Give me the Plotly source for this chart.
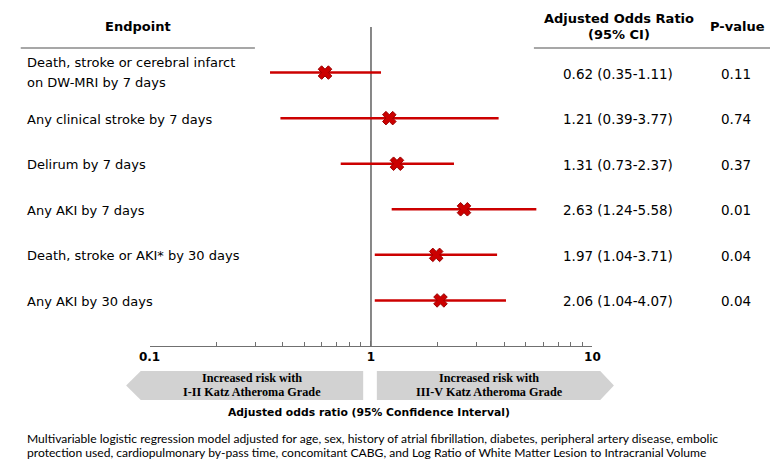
import plotly.graph_objects as go

W, H = 778, 466

endpoints = [
    ["Death, stroke or cerebral infarct", "on DW-MRI by 7 days"],
    ["Any clinical stroke by 7 days"],
    ["Delirum by 7 days"],
    ["Any AKI by 7 days"],
    ["Death, stroke or AKI* by 30 days"],
    ["Any AKI by 30 days"],
]
odds_ratio = [0.62, 1.21, 1.31, 2.63, 1.97, 2.06]
ci_low = [0.35, 0.39, 0.73, 1.24, 1.04, 1.04]
ci_high = [1.11, 3.77, 2.37, 5.58, 3.71, 4.07]
p_values = ["0.11", "0.74", "0.37", "0.01", "0.04", "0.04"]
rows = [1, 2, 3, 4, 5, 6]

major_ticks = [0.1, 1, 10]
major_text = ["0.1", "1", "10"]
minor_ticks = [0.2, 0.3, 0.4, 0.5, 0.6, 0.7, 0.8, 0.9, 2, 3, 4, 5, 6, 7, 8, 9]

footnote_lines = [
    "Multivariable logistic regression model adjusted for age, sex, history of atrial fibrillation, diabetes, peripheral artery disease, embolic",
    "protection used, cardiopulmonary by-pass time, concomitant CABG, and Log Ratio of White Matter Lesion to Intracranial Volume",
]
left_arrow_text = ["Increased risk with", "I-II Katz Atheroma Grade"]
right_arrow_text = ["Increased risk with", "III-V Katz Atheroma Grade"]

RED = "#cc0000"
MAIN_FONT = "DejaVu Sans"


def px(x):
    return x / W


def py(y):
    return 1 - y / H


fig = go.Figure()

# reference line at OR = 1
fig.add_trace(go.Scatter(x=[1, 1], y=[0, 7], mode="lines",
                         line=dict(color="#606060", width=1.5),
                         hoverinfo="skip", showlegend=False, cliponaxis=False))

# CI lines
cx, cy = [], []
for lo, hi, r in zip(ci_low, ci_high, rows):
    cx += [lo, hi, None]
    cy += [r, r, None]
fig.add_trace(go.Scatter(x=cx, y=cy, mode="lines",
                         line=dict(color=RED, width=2.5),
                         hoverinfo="skip", showlegend=False))

# point estimates
fig.add_trace(go.Scatter(x=odds_ratio, y=rows, mode="markers",
                         marker=dict(symbol="x", size=12, color=RED,
                                     line=dict(color="#990000", width=1)),
                         showlegend=False))

fig.update_xaxes(type="log", range=[-1, 1], domain=[px(142), px(596)],
                 showgrid=False, zeroline=False,
                 showline=True, linecolor="#707070", linewidth=1,
                 tickvals=major_ticks, ticktext=major_text,
                 ticks="inside", ticklen=5, tickcolor="#707070",
                 tickfont=dict(family=MAIN_FONT, size=12, color="black", weight="bold"),
                 minor=dict(tickvals=minor_ticks, ticks="inside", ticklen=4,
                            tickcolor="#707070", showgrid=False))
fig.update_yaxes(range=[7, 0], domain=[py(346), py(27)], visible=False,
                 showgrid=False, zeroline=False)

shapes = []
# header lines
shapes.append(dict(type="line", xref="paper", yref="paper",
                   x0=px(10), x1=px(250), y0=py(48), y1=py(48),
                   line=dict(color="#8a8a8a", width=1.5)))
shapes.append(dict(type="line", xref="paper", yref="paper",
                   x0=px(536), x1=px(778), y0=py(48), y1=py(48),
                   line=dict(color="#8a8a8a", width=1.5)))


def path(points):
    return "M " + " L ".join(f"{px(a):.5f},{py(b):.5f}" for a, b in points) + " Z"


left_arrow = [(118, 385.5), (133, 371), (361, 371), (361, 400), (133, 400)]
right_arrow = [(375, 371), (604, 371), (618, 385.5), (604, 400), (375, 400)]
for pts in (left_arrow, right_arrow):
    shapes.append(dict(type="path", xref="paper", yref="paper", path=path(pts),
                       fillcolor="#d2d2d2", line=dict(width=0), layer="below"))

annotations = []


def ann(text, x, y, size, xanchor="center", bold=False, family=MAIN_FONT, color="black"):
    annotations.append(dict(text=text, x=px(x), y=py(y), xref="paper", yref="paper",
                            xanchor=xanchor, yanchor="middle", showarrow=False,
                            borderpad=0,
                            font=dict(family=family, size=size, color=color,
                                      weight="bold" if bold else "normal")))


# headers
ann("Endpoint", 130, 26, 13, bold=True)
ann("Adjusted Odds Ratio", 623, 18, 13, bold=True)
ann("(95% CI)", 623, 35, 13, bold=True)
ann("P-value", 745, 27, 13, bold=True)

# row labels and table values
for lab, o, lo, hi, p, r in zip(endpoints, odds_ratio, ci_low, ci_high, p_values, rows):
    yy = 27 + r * 319 / 7
    if len(lab) == 2:
        ann(lab[0], 15, yy - 10, 13, xanchor="left")
        ann(lab[1], 15, yy + 10, 13, xanchor="left")
    else:
        ann(lab[0], 15, yy + 1, 13, xanchor="left")
    ann(f"{o:.2f} ({lo:.2f}-{hi:.2f})", 622, yy + 1, 13.5)
    ann(p, 743, yy + 1, 13.5)

# arrow texts
ann(left_arrow_text[0], 247, 378, 12.2, bold=True, family="Liberation Serif")
ann(left_arrow_text[1], 247, 392, 12.2, bold=True, family="Liberation Serif")
ann(right_arrow_text[0], 490, 378, 12.2, bold=True, family="Liberation Serif")
ann(right_arrow_text[1], 490, 392, 12.2, bold=True, family="Liberation Serif")

# axis title
ann("Adjusted odds ratio (95% Confidence Interval)", 367, 412, 10.8, bold=True)

# footnote
ann(footnote_lines[0], 15, 438, 12.1, xanchor="left", family="Lato")
ann(footnote_lines[1], 15, 452, 12.1, xanchor="left", family="Lato")

fig.update_layout(width=W, height=H, margin=dict(l=0, r=0, t=0, b=0),
                  paper_bgcolor="white", plot_bgcolor="white",
                  shapes=shapes, annotations=annotations, showlegend=False)

fig.write_html("out.html", config={"displayModeBar": False},
               post_script="document.body.style.margin='0';document.body.style.overflow='hidden';")
